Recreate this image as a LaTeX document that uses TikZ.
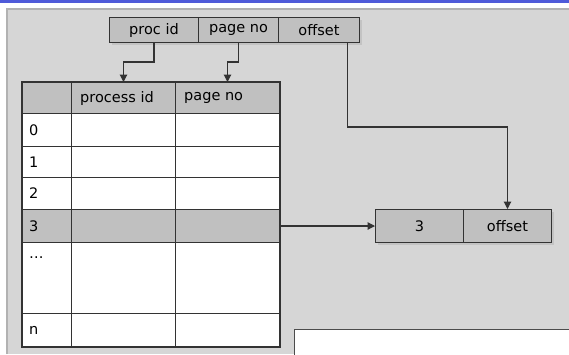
\documentclass[tikz,border=0pt]{standalone}
\usepackage{fontspec}
\setmainfont{DejaVu Sans}
\usetikzlibrary{arrows.meta,shadows}
\definecolor{panel}{HTML}{D6D6D6}
\definecolor{boxg}{HTML}{C0C0C0}
\definecolor{ink}{HTML}{333333}
\definecolor{topblue}{HTML}{4F5BD9}
\tikzset{
  fld/.style={draw=ink, fill=boxg, line width=1pt, minimum height=25pt, inner sep=0pt,
              font=\fontsize{14.5}{16}\selectfont, drop shadow={shadow xshift=2pt, shadow yshift=-2pt, fill=black!30, opacity=0.5}},
  cell/.style={draw=ink, line width=1pt, fill=white, inner sep=0pt, anchor=north west},
  hcell/.style={cell, fill=boxg},
  lbl/.style={anchor=west, inner sep=0pt, font=\fontsize{14.5}{16}\selectfont},
  arr/.style={draw=ink, line width=1.1pt, -{Triangle[length=7.5pt,width=7.5pt]}},
}
\begin{document}
\begin{tikzpicture}[x=1pt,y=-1pt]
\useasboundingbox (0,0) rectangle (569,354);
% slide decoration
\fill[topblue] (0,0) rectangle (569,2.5);
\fill[panel] (7,9) rectangle (569,354);
\draw[black!30, line width=1.2pt] (7,354) -- (7,9) -- (569,9);
% bottom white box
\fill[white] (294,329) rectangle (570,355);
\draw[black!70, line width=0.8pt] (294,355) -- (294,329) -- (570,329);
% top address fields
\node[fld, minimum width=89pt, anchor=north west] (pid) at (109,17) {proc id};
\node[fld, minimum width=80pt, anchor=north west] (pno) at (198,17) {page no};
\node[fld, minimum width=81pt, anchor=north west] (off) at (278,17) {offset};
% table
\node[hcell, minimum width=49pt, minimum height=31pt] (h0) at (22,82) {};
\node[hcell, minimum width=104pt, minimum height=31pt] (h1) at (71,82) {};
\node[hcell, minimum width=104pt, minimum height=31pt] (h2) at (175,82) {};
\node[lbl] at ([xshift=9pt]h1.west) {process id};
\node[lbl] at ([xshift=9pt]h2.west) {page no};
% rows
\foreach \nm/\y/\h/\f in {r0/113/33/white, r1/146/31/white, r2/177/32/white, r3/209/33/boxg, r4/242/71/white, r5/313/33/white}{
  \node[cell, fill=\f, minimum width=49pt, minimum height=\h pt] (\nm a) at (22,\y) {};
  \node[cell, fill=\f, minimum width=104pt, minimum height=\h pt] (\nm b) at (71,\y) {};
  \node[cell, fill=\f, minimum width=104pt, minimum height=\h pt] (\nm c) at (175,\y) {};
}
\node[lbl] at ([xshift=7pt]r0a.west) {0};
\node[lbl] at ([xshift=7pt]r1a.west) {1};
\node[lbl] at ([xshift=7pt]r2a.west) {2};
\node[lbl] at ([xshift=7pt]r3a.west) {3};
\node[lbl] at ([xshift=7pt,yshift=-16pt]r4a.north west) {…};
\node[lbl] at ([xshift=7pt]r5a.west) {n};
\draw[ink, line width=2pt] (h0.north west) rectangle (r5c.south east);
% result fields
\node[fld, minimum width=88pt, minimum height=33pt, anchor=north west] (frm) at (375,209) {3};
\node[fld, minimum width=88pt, minimum height=33pt, anchor=north west] (off2) at (463,209) {offset};
% connectors
\draw[arr] (pid.south) -- ++(0,19) -| (h1.north);
\draw[arr] (pno.south) -- ++(0,19) -| (h2.north);
\draw[arr] ([xshift=28.5pt]off.south) -- ++(0,84) -| (off2.north);
\draw[arr] (r3c.east) -- (frm.west);
\end{tikzpicture}
\end{document}
